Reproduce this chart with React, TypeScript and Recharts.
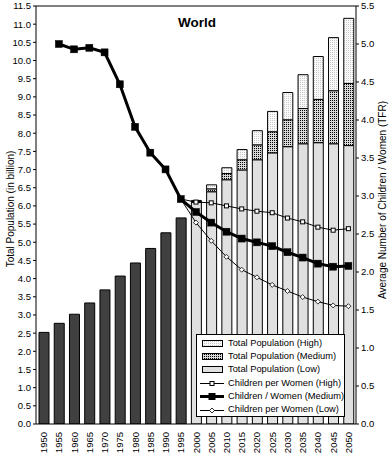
import React from 'react';
import { ComposedChart, Bar, Line, XAxis, YAxis, ReferenceLine, Legend } from 'recharts';

const FONT = '"Liberation Sans", Arial, sans-serif';

const years = [1950, 1955, 1960, 1965, 1970, 1975, 1980, 1985, 1990, 1995, 2000, 2005, 2010, 2015, 2020, 2025, 2030, 2035, 2040, 2045, 2050];

const historicPop = [2.52, 2.77, 3.02, 3.33, 3.69, 4.07, 4.43, 4.83, 5.26, 5.67, null, null, null, null, null, null, null, null, null, null, null];
const popLow = [null, null, null, null, null, null, null, null, null, null, 6.1, 6.39, 6.72, 6.99, 7.27, 7.46, 7.63, 7.71, 7.74, 7.71, 7.66];
const popMedium = [null, null, null, null, null, null, null, null, null, null, 6.12, 6.47, 6.89, 7.27, 7.68, 8.04, 8.37, 8.68, 8.93, 9.17, 9.37];
const popHigh = [null, null, null, null, null, null, null, null, null, null, 6.15, 6.58, 7.05, 7.55, 8.07, 8.6, 9.12, 9.61, 10.11, 10.63, 11.16];

const tfrHigh = [null, null, null, null, null, null, null, null, null, 2.96, 2.92, 2.91, 2.87, 2.83, 2.8, 2.78, 2.71, 2.66, 2.59, 2.55, 2.57];
const tfrMedium = [null, 5.0, 4.93, 4.95, 4.89, 4.47, 3.91, 3.57, 3.35, 2.96, 2.79, 2.65, 2.53, 2.44, 2.39, 2.34, 2.26, 2.19, 2.11, 2.07, 2.08];
const tfrLow = [null, null, null, null, null, null, null, null, null, 2.96, 2.65, 2.41, 2.2, 2.03, 1.93, 1.83, 1.75, 1.67, 1.61, 1.56, 1.55];

const leftTicks = [0, 0.5, 1, 1.5, 2, 2.5, 3, 3.5, 4, 4.5, 5, 5.5, 6, 6.5, 7, 7.5, 8, 8.5, 9, 9.5, 10, 10.5, 11, 11.5];
const rightTicks = [0, 0.5, 1, 1.5, 2, 2.5, 3, 3.5, 4, 4.5, 5, 5.5];

const data = years.map((y, i) => {
  const lo = popLow[i];
  const me = popMedium[i];
  const hi = popHigh[i];
  return {
    year: String(y),
    hist: historicPop[i] ?? 0,
    low: lo ?? 0,
    medExtra: me != null && lo != null ? me - lo : 0,
    highExtra: hi != null && me != null ? hi - me : 0,
    tHigh: tfrHigh[i],
    tMed: tfrMedium[i],
    tLow: tfrLow[i],
  };
});

const YearTick = (props: any) => {
  const { x, y, payload } = props;
  const tx = x + 3.5;
  const ty = y + 8;
  return (
    <text x={tx} y={ty} transform={`rotate(-90 ${tx} ${ty})`} textAnchor="end" fontSize={9.5} fill="#000" fontFamily={FONT}>
      {payload.value}
    </text>
  );
};

const smallSquare = (props: any) => {
  const { cx, cy, index } = props;
  if (cx == null || cy == null) return <g key={`hs${index}`} />;
  return <rect key={`hs${index}`} x={cx - 2} y={cy - 2} width={4} height={4} fill="#fff" stroke="#000" strokeWidth={1} />;
};

const bigSquare = (props: any) => {
  const { cx, cy, index } = props;
  if (cx == null || cy == null) return <g key={`ms${index}`} />;
  return <rect key={`ms${index}`} x={cx - 3.5} y={cy - 3.5} width={7} height={7} fill="#000" stroke="#000" strokeWidth={0.5} />;
};

const diamond = (props: any) => {
  const { cx, cy, index } = props;
  if (cx == null || cy == null) return <g key={`ld${index}`} />;
  return <path key={`ld${index}`} d={`M${cx},${cy - 2.5} L${cx + 2.5},${cy} L${cx},${cy + 2.5} L${cx - 2.5},${cy} Z`} fill="#fff" stroke="#000" strokeWidth={0.8} />;
};

const legendItems = [
  { label: 'Total Population (High)', kind: 'rect', fill: 'url(#patHigh)' },
  { label: 'Total Population (Medium)', kind: 'rect', fill: 'url(#patMed)' },
  { label: 'Total Population (Low)', kind: 'rect', fill: '#e0e0e0' },
  { label: 'Children per Women (High)', kind: 'lineHigh' },
  { label: 'Children / Women (Medium)', kind: 'lineMed' },
  { label: 'Children per Women (Low)', kind: 'lineLow' },
];

const Swatch = ({ kind, fill }: { kind: string; fill?: string }) => (
  <svg width={24} height={13} style={{ display: 'block', flex: '0 0 auto' }}>
    {kind === 'rect' && <rect x={2.5} y={3.5} width={20} height={6} fill={fill} stroke="#000" strokeWidth={1} />}
    {kind === 'lineHigh' && (
      <g>
        <line x1={0} y1={6.5} x2={24} y2={6.5} stroke="#000" strokeWidth={1} />
        <rect x={10} y={4.5} width={4} height={4} fill="#fff" stroke="#000" strokeWidth={1} />
      </g>
    )}
    {kind === 'lineMed' && (
      <g>
        <line x1={0} y1={6.5} x2={24} y2={6.5} stroke="#000" strokeWidth={3} />
        <rect x={8.5} y={3} width={7} height={7} fill="#000" />
      </g>
    )}
    {kind === 'lineLow' && (
      <g>
        <line x1={0} y1={6.5} x2={24} y2={6.5} stroke="#000" strokeWidth={1} />
        <path d="M12,4 L14.5,6.5 L12,9 L9.5,6.5 Z" fill="#fff" stroke="#000" strokeWidth={0.8} />
      </g>
    )}
  </svg>
);

const LegendBox = () => (
  <div
    style={{
      width: 149,
      height: 83,
      boxSizing: 'border-box',
      border: '1px solid #000',
      background: '#fff',
      paddingTop: 1.5,
      fontFamily: FONT,
      fontSize: 9.3,
      color: '#000',
    }}
  >
    {legendItems.map((it) => (
      <div key={it.label} style={{ display: 'flex', alignItems: 'center', height: 13.4, whiteSpace: 'nowrap' }}>
        <div style={{ width: 3 }} />
        <Swatch kind={it.kind} fill={it.fill} />
        <div style={{ width: 4 }} />
        <span style={{ lineHeight: '13.4px' }}>{it.label}</span>
      </div>
    ))}
  </div>
);

export default function App() {
  return (
    <div style={{ position: 'absolute', left: 0, top: 0, width: 390, height: 455, background: '#fff' }}>
      <ComposedChart width={390} height={455} data={data} margin={{ top: 6, right: 0, bottom: 0, left: 0 }} barSize={10}>
        <defs>
          <pattern id="patHigh" patternUnits="userSpaceOnUse" width={2} height={2}>
            <rect x={0} y={0} width={2} height={2} fill="#fafafa" />
            <rect x={0} y={0} width={1} height={1} fill="#c8c8c8" />
          </pattern>
          <pattern id="patMed" patternUnits="userSpaceOnUse" width={2} height={2}>
            <rect x={0} y={0} width={2} height={2} fill="#d8d8d8" />
            <rect x={0} y={0} width={1} height={1} fill="#000" />
          </pattern>
        </defs>
        <XAxis
          dataKey="year"
          height={31}
          interval={0}
          tickLine={false}
          tickSize={0}
          tickMargin={0}
          axisLine={{ stroke: '#000' }}
          tick={<YearTick />}
        />
        <YAxis
          yAxisId="left"
          width={36}
          domain={[0, 11.5]}
          ticks={leftTicks}
          interval={0}
          allowDataOverflow
          tickFormatter={(v: number) => v.toFixed(1)}
          tickSize={3}
          tickMargin={2}
          axisLine={{ stroke: '#000' }}
          tickLine={{ stroke: '#000' }}
          tick={{ fontSize: 9.5, fill: '#000', fontFamily: FONT }}
        />
        <YAxis
          yAxisId="right"
          orientation="right"
          width={34}
          domain={[0, 5.5]}
          ticks={rightTicks}
          interval={0}
          allowDataOverflow
          tickFormatter={(v: number) => v.toFixed(1)}
          tickSize={3}
          tickMargin={2}
          axisLine={{ stroke: '#000' }}
          tickLine={{ stroke: '#000' }}
          tick={{ fontSize: 9.5, fill: '#000', fontFamily: FONT }}
        />
        <ReferenceLine yAxisId="left" y={11.5} stroke="#000" strokeWidth={1} />
        <Bar yAxisId="left" dataKey="hist" stackId="pop" fill="#404040" stroke="#000" strokeWidth={1} isAnimationActive={false} />
        <Bar yAxisId="left" dataKey="low" stackId="pop" fill="#e0e0e0" stroke="#000" strokeWidth={1} isAnimationActive={false} />
        <Bar yAxisId="left" dataKey="medExtra" stackId="pop" fill="url(#patMed)" stroke="#000" strokeWidth={1} isAnimationActive={false} />
        <Bar yAxisId="left" dataKey="highExtra" stackId="pop" fill="url(#patHigh)" stroke="#000" strokeWidth={1} isAnimationActive={false} />
        <Line yAxisId="right" type="linear" dataKey="tHigh" stroke="#000" strokeWidth={1} dot={smallSquare} activeDot={false} isAnimationActive={false} />
        <Line yAxisId="right" type="linear" dataKey="tLow" stroke="#000" strokeWidth={1} dot={diamond} activeDot={false} isAnimationActive={false} />
        <Line yAxisId="right" type="linear" dataKey="tMed" stroke="#000" strokeWidth={3} dot={bigSquare} activeDot={false} isAnimationActive={false} />
        <Legend
          layout="vertical"
          align="center"
          verticalAlign="middle"
          content={() => <LegendBox />}
          wrapperStyle={{ position: 'absolute', left: 196, top: 334, width: 149, height: 83 }}
        />
      </ComposedChart>
      <svg width={390} height={455} style={{ position: 'absolute', left: 0, top: 0, pointerEvents: 'none' }}>
        <text x={197} y={27} textAnchor="middle" fontSize={13.5} fontWeight="bold" fontFamily={FONT} fill="#000">
          World
        </text>
        <text transform="rotate(-90)" x={-209} y={13.5} textAnchor="middle" fontSize={10} fontFamily={FONT} fill="#000">
          Total Population (in billion)
        </text>
        <text transform="rotate(-90)" x={-200} y={386} textAnchor="middle" fontSize={10} fontFamily={FONT} fill="#000">
          Average Number of Children / Women (TFR)
        </text>
      </svg>
    </div>
  );
}
